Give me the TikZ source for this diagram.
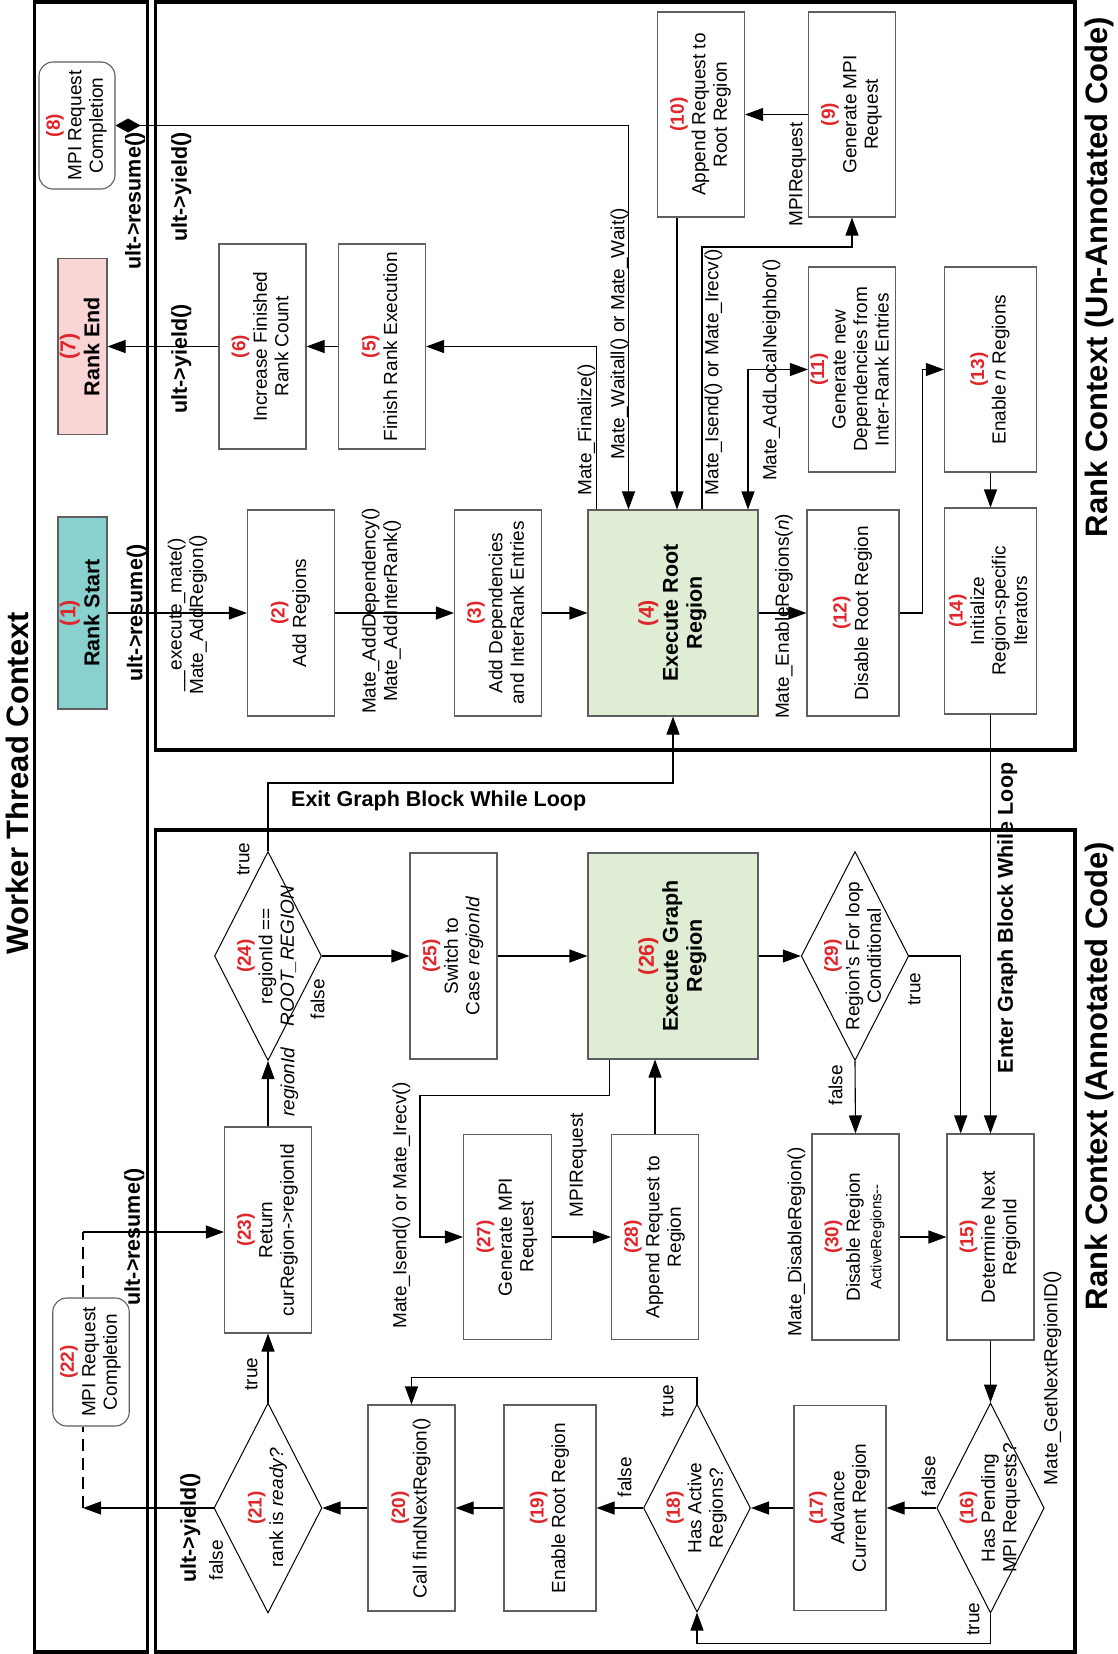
\documentclass[tikz,border=0pt]{standalone}
\usepackage{fontspec}
\setmainfont{Liberation Sans}
\usepackage{graphicx}
\usetikzlibrary{arrows.meta,shapes.geometric,calc}
\definecolor{numred}{HTML}{E0262B}
\definecolor{boxgray}{HTML}{5F5F5F}
\definecolor{tealfill}{HTML}{88D1CE}
\definecolor{pinkfill}{HTML}{F9D5D5}
\definecolor{greenfill}{HTML}{DFEDD5}
\newcommand\rt[1]{\rotatebox{90}{\begin{tabular}{@{}c@{}}#1\end{tabular}}}
\newcommand\nr[1]{{\color{numred}\bfseries #1}}
\newcommand\fr{\fontsize{19}{21.5}\selectfont}
\newcommand\fb{\fontsize{21.5}{24}\selectfont\bfseries}
\begin{document}
\begin{tikzpicture}[x=1pt,y=-1pt,
  box/.style={draw=boxgray,line width=1.1pt,fill=white,rectangle,inner sep=0pt,font=\fr},
  dia/.style={draw=black,line width=1pt,fill=white,diamond,inner sep=0pt,font=\fr},
  sz/.style 2 args={minimum width=#1pt,minimum height=#2pt},
  conn/.style={line width=1.1pt,draw=black},
  arr/.style={conn,-{Triangle[length=18pt,width=13pt]}},
  lbl/.style={inner sep=0pt,font=\fr},
  blbl/.style={inner sep=0pt,font=\fb},
  frame/.style={line width=3.6pt,draw=black},
  ttl/.style={inner sep=0pt,font=\fontsize{31}{35}\selectfont\bfseries}]
\useasboundingbox (0,0) rectangle (1117,1654);
% frames
\draw[frame] (34.6,2) rectangle (147.4,1652);
\draw[frame] (155.3,2) rectangle (1075,750);
\draw[frame] (155.3,830) rectangle (1075,1652);
% titles
\node[ttl] (tw) at (22,783) {\rt{Worker Thread Context}};
\node[ttl] (tu) at (1100,277) {\rt{Rank Context (Un-Annotated Code)}};
\node[ttl] (ta) at (1100,1076) {\rt{Rank Context (Annotated Code)}};
% ---- un-annotated nodes
\node[box,sz={76}{127},rounded corners=14pt] (n8) at (77,125.5) {\rt{\nr{(8)}\\MPI Request\\Completion}};
\node[box,sz={49}{176},fill=pinkfill,font=\fb] (n7) at (82.5,346.5) {\rt{\nr{(7)}\\Rank End}};
\node[box,sz={87}{205}] (n6) at (262.5,346.5) {\rt{\nr{(6)}\\Increase Finished\\Rank Count}};
\node[box,sz={87}{205}] (n5) at (382,346.5) {\rt{\nr{(5)}\\Finish Rank Execution}};
\node[box,sz={87}{205}] (n10) at (701,114.5) {\rt{\nr{(10)}\\Append Request to\\Root Region}};
\node[box,sz={87}{205}] (n9) at (852,114.5) {\rt{\nr{(9)}\\Generate MPI\\Request}};
\node[box,sz={87}{205}] (n11) at (852,369.5) {\rt{\nr{(11)}\\Generate new\\Dependencies from\\Inter-Rank Entries}};
\node[box,sz={92}{205}] (n13) at (990.5,369.5) {\rt{\nr{(13)}\\Enable \textit{n} Regions}};
\node[box,sz={92}{206}] (n14) at (990.5,611) {\rt{\nr{(14)}\\Initialize\\Region-specific\\Iterators}};
\node[box,sz={92}{206}] (n12) at (853,613) {\rt{\nr{(12)}\\Disable Root Region}};
\node[box,sz={170}{206},fill=greenfill,font=\fb] (n4) at (673,613) {\rt{\nr{(4)}\\Execute Root\\Region}};
\node[box,sz={49}{192},fill=tealfill,font=\fb] (n1) at (82.5,613) {\rt{\nr{(1)}\\Rank Start}};
\node[box,sz={87}{206}] (n2) at (291,613) {\rt{\nr{(2)}\\Add Regions}};
\node[box,sz={87}{206}] (n3) at (498,613) {\rt{\nr{(3)}\\Add Dependencies\\and InterRank Entries}};
% ---- annotated nodes
\node[dia,sz={107}{209},label={[font=\fr]center:{\rt{\nr{(24)}\\regionId ==\\\textit{ROOT\_REGION}}}}] (d24) at (268,956) {};
\node[box,sz={87}{206}] (n25) at (453.5,956) {\rt{\nr{(25)}\\Switch to\\Case \textit{regionId}}};
\node[box,sz={170}{206},fill=greenfill,font=\fb] (n26) at (673,956) {\rt{\nr{(26)}\\Execute Graph\\Region}};
\node[dia,sz={107.5}{209},label={[font=\fr]center:{\rt{\nr{(29)}\\Region's For loop\\Conditional}}}] (d29) at (855,956) {};
\node[box,sz={87}{206}] (n30) at (855.5,1237) {\rt{\nr{(30)}\\Disable Region\\{\fontsize{15}{17}\selectfont ActiveRegions-{}-}}};
\node[box,sz={87}{206}] (n15) at (990.5,1237) {\rt{\nr{(15)}\\Determine Next\\RegionId}};
\node[dia,sz={107.5}{210},label={[font=\fr]center:{\rt{\nr{(16)}\\Has Pending\\MPI Requests?}}}] (d16) at (990.5,1508) {};
\node[box,sz={92}{205}] (n17) at (840,1508) {\rt{\nr{(17)}\\Advance\\Current Region}};
\node[dia,sz={107}{208},label={[font=\fr]center:{\rt{\nr{(18)}\\Has Active\\Regions?}}}] (d18) at (697,1508) {};
\node[box,sz={92}{206}] (n19) at (550,1508) {\rt{\nr{(19)}\\Enable Root Region}};
\node[box,sz={87}{206}] (n20) at (411.5,1508) {\rt{\nr{(20)}\\Call findNextRegion()}};
\node[dia,sz={108}{210},label={[font=\fr]center:{\rt{\nr{(21)}\\rank is \textit{ready?}}}}] (d21) at (268,1508) {};
\node[box,sz={87}{206}] (n23) at (268,1230) {\rt{\nr{(23)}\\Return\\curRegion->regionId}};
\node[box,sz={76.5}{128},rounded corners=14pt] (n22) at (91,1362) {\rt{\nr{(22)}\\MPI Request\\Completion}};
\node[box,sz={88}{205}] (n27) at (507.5,1237) {\rt{\nr{(27)}\\Generate MPI\\Request}};
\node[box,sz={87}{205}] (n28) at (655,1237) {\rt{\nr{(28)}\\Append Request to\\Region}};
% ---- connectors un-annotated
\coordinate (k8) at (628.5,125.5);
\draw[conn,{Diamond[length=25pt,width=14pt]}-{Triangle[length=18pt,width=13pt]}] (n8.east) -- (k8) -- (k8 |- n4.north);
\draw[arr] (n6.west) -- (n7.east);
\draw[arr] (n5.west) -- (n6.east);
\coordinate (k5) at (596.6,346.5);
\draw[arr] (k5 |- n4.north) -- (k5) -- (n5.east);
\draw[arr] (n9.west) -- (n10.east);
\coordinate (k10) at (677,300);
\draw[arr] (k10 |- n10.south) -- (k10 |- n4.north);
\coordinate (k9) at (702,247);
\draw[arr] (k9 |- n4.north) -- (k9) -| (n9.south);
\coordinate (k11) at (748,369.5);
\draw[conn,{Triangle[length=18pt,width=13pt]}-{Triangle[length=18pt,width=13pt]}] (k11 |- n4.north) -- (k11) -- (n11.west);
\draw[arr] (n4.east) -- (n12.west);
\draw[arr] (n12.east) -- ++(22.6,0) |- (n13.west);
\draw[arr] (n13.south) -- (n14.north);
\draw[arr] (n1.east) -- (n2.west);
\draw[arr] (n2.east) -- (n3.west);
\draw[arr] (n3.east) -- (n4.west);
\draw[arr] (n14.south) -- (n15.north);
% ---- connectors annotated
\coordinate (kx) at (268,783);
\draw[arr] (d24.north) -- (kx) -| (n4.south);
\draw[arr] (d24.east) -- (n25.west);
\draw[arr] (n25.east) -- (n26.west);
\draw[arr] (n26.east) -- (d29.west);
\coordinate (k29) at (960.7,956);
\draw[arr] (d29.east) -- (k29) -- (k29 |- n15.north);
\draw[arr] (d29.south) -- (n30.north);
\draw[arr] (n30.east) -- (n15.west);
\draw[arr] (n15.south) -- (d16.north);
\draw[arr] (d16.west) -- (n17.east);
\draw[arr] (d16.south) -- ++(0,29.7) -| (d18.south);
\draw[arr] (n17.west) -- (d18.east);
\draw[arr] (d18.west) -- (n19.east);
\draw[arr] (d18.north) -- ++(0,-26) -| (n20.north);
\draw[arr] (n19.west) -- (n20.east);
\draw[arr] (n20.west) -- (d21.east);
\draw[arr] (d21.north) -- (n23.south);
\coordinate (y21) at (83,1508);
\draw[arr] (d21.west) -- (y21);
\coordinate (r22) at (83,1232);
\draw[conn,dash pattern=on 12pt off 7pt] (y21) -- (y21 |- n22.south);
\draw[conn,dash pattern=on 12pt off 7pt] (r22 |- n22.north) -- (r22);
\draw[arr] (r22) -- (r22 -| n23.west);
\draw[arr] (n23.north) -- (d24.south);
\coordinate (k26a) at (609.7,1095.7);
\coordinate (k26b) at (420,1095.7);
\draw[arr] (k26a |- n26.south) -- (k26a) -- (k26b) |- (n27.west);
\draw[arr] (n27.east) -- (n28.west);
\draw[arr] (n28.north) -- (n28.north |- n26.south);
% ---- labels
\node[lbl] (l1) at (620,334) {\rt{Mate\_Waitall() or Mate\_Wait()}};
\node[lbl] (l2) at (587,430) {\rt{Mate\_Finalize()}};
\node[lbl] (l3) at (798,174.5) {\rt{MPIRequest}};
\node[lbl] (l4) at (714,372) {\rt{Mate\_Isend() or Mate\_Irecv()}};
\node[lbl] (l5) at (772,370) {\rt{Mate\_AddLocalNeighbor()}};
\node[lbl] (l6) at (784.5,616.5) {\rt{Mate\_EnableRegions(\textit{n})}};
\node[blbl] (l7) at (135.7,201) {\rt{ult->resume()}};
\node[blbl] (l8) at (182,187) {\rt{ult->yield()}};
\node[blbl] (l9) at (182,359) {\rt{ult->yield()}};
\node[blbl] (l10) at (137.5,613) {\rt{ult->resume()}};
\node[lbl] (l11) at (188,615) {\rt{\_\_execute\_mate()\\Mate\_AddRegion()}};
\node[lbl] (l12) at (382,611) {\rt{Mate\_AddDependency()\\Mate\_AddInterRank()}};
\node[blbl,anchor=west] (l13) at (291,801) {Exit Graph Block While Loop};
\node[blbl] (l14) at (1008,918) {\rt{Enter Graph Block While Loop}};
\node[lbl] (l15) at (245,859) {\rt{true}};
\node[lbl] (l16) at (320,999) {\rt{false}};
\node[lbl] (l17) at (290,1082) {\rt{\textit{regionId}}};
\node[lbl] (l18) at (916,989) {\rt{true}};
\node[lbl] (l19) at (838,1085) {\rt{false}};
\node[lbl] (l20) at (797,1242) {\rt{Mate\_DisableRegion()}};
\node[lbl] (l21) at (1053,1378) {\rt{Mate\_GetNextRegionID()}};
\node[lbl] (l22) at (931,1476) {\rt{false}};
\node[lbl] (l23) at (975,1619) {\rt{true}};
\node[lbl] (l24) at (669,1401) {\rt{true}};
\node[lbl] (l25) at (627,1477) {\rt{false}};
\node[lbl] (l26) at (253,1374) {\rt{true}};
\node[lbl] (l27) at (218.5,1560) {\rt{false}};
\node[blbl] (l28) at (191,1528) {\rt{ult->yield()}};
\node[blbl] (l29) at (135,1237) {\rt{ult->resume()}};
\node[lbl] (l30) at (402,1205.5) {\rt{Mate\_Isend() or Mate\_Irecv()}};
\node[lbl] (l31) at (578.6,1165) {\rt{MPIRequest}};
\end{tikzpicture}
\end{document}
